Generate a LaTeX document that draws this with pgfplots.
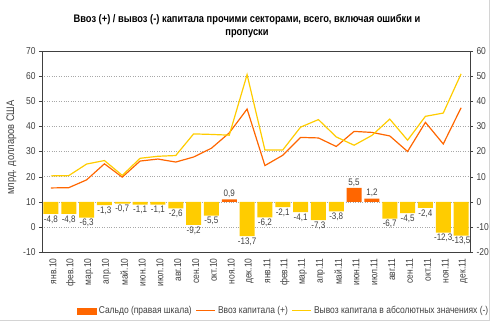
\documentclass[border=0pt]{standalone}
\usepackage{pgfplots}
\pgfplotsset{compat=1.18}
\usepackage{fontspec}
\setmainfont{Liberation Sans}[FakeStretch=0.85]
\definecolor{cOr}{HTML}{FF6600}
\definecolor{cYe}{HTML}{FFCC00}
\definecolor{cGrid}{HTML}{A8A8A8}
\definecolor{cAx}{HTML}{404040}
\definecolor{cFrame}{HTML}{D4D4D4}
\begin{document}
\begin{tikzpicture}
\path[use as bounding box] (0,0) rectangle (492bp,324bp);
\draw[cFrame, line width=0.8bp] (0bp,4bp) -- (489.5bp,4bp) -- (489.5bp,324bp);
\node[font=\bfseries\fontsize{11}{12.5}\selectfont, align=center] at (247bp,298bp) {Ввоз (+) / вывоз (-) капитала прочими секторами, всего, включая ошибки и\\пропуски};
% bars on the right scale
\begin{axis}[at={(42bp,72bp)}, anchor=south west, width=428bp, height=201bp, scale only axis,
  xmin=-0.5, xmax=23.5, ymin=-20, ymax=60,
  ytick={-20,-10,...,60}, ytick pos=right, yticklabel pos=right,
  xtick=\empty, minor xtick={0.5,1.5,...,22.5}, xminorgrids, ymajorgrids,
  grid style={cGrid, dotted}, minor grid style={cGrid, dotted}, major grid style={cGrid, dotted},
  axis line style={cAx}, tick style={cAx}, tick align=outside,
  major tick length=3bp, minor tick length=3bp, xtick pos=bottom,
  /pgf/number format/assume math mode=true,
  ticklabel style={font=\fontsize{10}{11}\selectfont, text=cAx},
  nodes near coords style={font=\fontsize{9.5}{10}\selectfont, text=cAx, inner sep=1.5bp},
  nodes near coords={\pgfmathprintnumber[use comma,fixed,precision=1,fixed zerofill,assume math mode=true]{\pgfplotspointmeta}},
]
\addplot[ybar, bar width=15bp, bar shift=0pt, fill=cYe, draw=none,
  nodes near coords align={vertical}] coordinates {
  (0,-4.8) (1,-4.8) (2,-6.3) (3,-1.3) (4,-0.7) (5,-1.1) (6,-1.1) (7,-2.6) (8,-9.2) (9,-5.5)
  (11,-13.7) (12,-6.2) (13,-2.1) (14,-4.1) (15,-7.3) (16,-3.8)
  (19,-6.7) (20,-4.5) (21,-2.4) (22,-12.3) (23,-13.5)};
\addplot[ybar, bar width=15bp, bar shift=0pt, fill=cOr, draw=none,
  nodes near coords align={vertical}] coordinates {
  (10,0.9) (17,5.5) (18,1.2)};
\end{axis}
% lines on the left scale
\begin{axis}[at={(42bp,72bp)}, anchor=south west, width=428bp, height=201bp, scale only axis,
  xmin=-0.5, xmax=23.5, ymin=-10, ymax=70,
  ytick={-10,0,...,70}, ytick pos=left,
  xtick={0,...,23},
  xticklabels={янв.10,фев.10,мар.10,апр.10,май.10,июн.10,июл.10,авг.10,сен.10,окт.10,ноя.10,дек.10,
               янв.11,фев.11,мар.11,апр.11,май.11,июн.11,июл.11,авг.11,сен.11,окт.11,ноя.11,дек.11},
  xticklabel style={rotate=90, anchor=east, yshift=-2bp},
  x tick style={draw=none},
  axis line style={cAx}, tick style={cAx}, tick align=outside, major tick length=3bp,
  /pgf/number format/assume math mode=true,
  ticklabel style={font=\fontsize{10}{11}\selectfont, text=cAx},
  ylabel={млрд. долларов США},
  ylabel style={font=\fontsize{11}{12}\selectfont, text=cAx, at={(ticklabel cs:0.52)}},
  legend style={at={(0.565,-0.293)}, anchor=center, draw=none, fill=none,
    legend columns=3, font=\fontsize{10}{11}\selectfont, text=cAx,
    /tikz/every even column/.append style={column sep=2bp},
    /tikz/every odd column/.append style={column sep=0bp}},
  legend cell align=left,
]
\addlegendimage{legend image code/.code={\fill[cOr] (0bp,-3bp) rectangle (19bp,3bp);}}
\addlegendentry{Сальдо (правая шкала)}
\addplot[cOr, line width=1.2bp, mark=none, legend image code/.code={\draw[cOr, line width=1.2bp] (0bp,0bp) -- (19bp,0bp);}] coordinates {
  (0,15.5) (1,15.6) (2,18.7) (3,25.1) (4,19.8) (5,26.2) (6,27.0) (7,25.8) (8,27.8) (9,31.3) (10,37.4) (11,46.9)
  (12,24.4) (13,28.5) (14,35.6) (15,35.4) (16,32.0) (17,38.0) (18,37.6) (19,36.2) (20,30.0) (21,41.6) (22,33.0) (23,47.4)};
\addlegendentry{Ввоз капитала (+)}
\addplot[cYe, line width=1.2bp, mark=none, legend image code/.code={\draw[cYe, line width=1.2bp] (0bp,0bp) -- (19bp,0bp);}] coordinates {
  (0,20.3) (1,20.4) (2,25.0) (3,26.4) (4,20.5) (5,27.3) (6,28.1) (7,28.4) (8,37.0) (9,36.8) (10,36.5) (11,60.6)
  (12,30.6) (13,30.6) (14,39.7) (15,42.7) (16,35.8) (17,32.5) (18,36.4) (19,42.9) (20,34.5) (21,44.0) (22,45.3) (23,60.9)};
\addlegendentry{Вывоз капитала в абсолютных значениях (-)}
\end{axis}
\end{tikzpicture}
\end{document}
